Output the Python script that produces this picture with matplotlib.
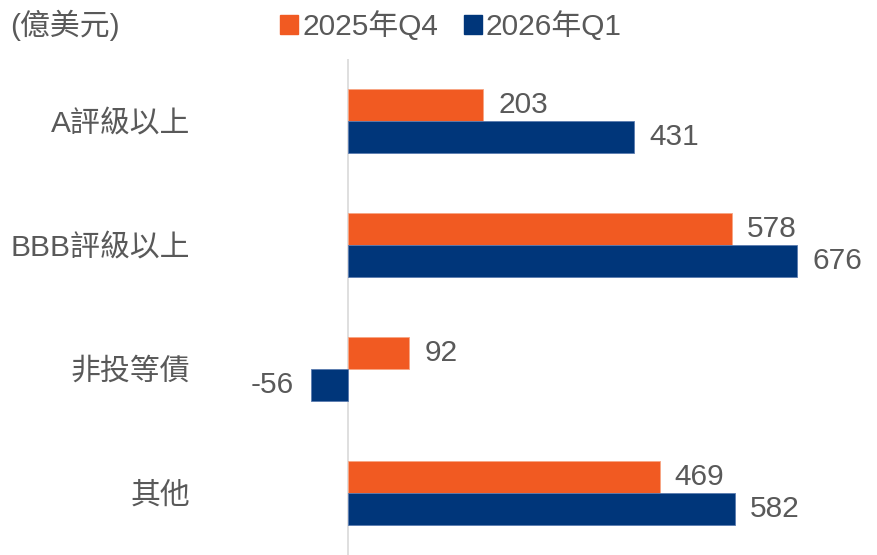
import matplotlib.pyplot as plt
from matplotlib.patches import Patch

plt.rcParams['font.family'] = ['Liberation Sans', 'Noto Sans CJK TC', 'DejaVu Sans']

categories = ['A評級以上', 'BBB評級以上', '非投等債', '其他']
q4_2025 = [203, 578, 92, 469]
q1_2026 = [431, 676, -56, 582]
series_names = ['2025年Q4', '2026年Q1']

ORANGE = '#F15A22'
NAVY = '#00367A'
GREY_TEXT = '#595959'
FS = 21.5

fig = plt.figure(figsize=[8.78, 5.55], dpi=100)
ax = fig.add_axes([200 / 878, 0, 670 / 878, 496 / 555])

h = 0.258
ypos = list(range(len(categories)))
b1 = ax.barh([y - h / 2 for y in ypos], q4_2025, height=h, color=ORANGE, edgecolor='#F7A584', linewidth=0.6)
b2 = ax.barh([y + h / 2 for y in ypos], q1_2026, height=h, color=NAVY, edgecolor='#5B7BB0', linewidth=0.6)

for bars, vals in ((b1, q4_2025), (b2, q1_2026)):
    for bar, v in zip(bars, vals):
        yc = bar.get_y() + bar.get_height() / 2
        if v >= 0:
            ax.annotate(str(v), (v, yc), xytext=(11, 0), textcoords='offset points',
                        ha='left', va='center', fontsize=FS, color=GREY_TEXT)
        else:
            ax.annotate(str(v), (v, yc), xytext=(-12, 0), textcoords='offset points',
                        ha='right', va='center', fontsize=FS, color=GREY_TEXT)

ax.set_xlim(-223, 786)
ax.set_ylim(3.5, -0.5)
ax.set_yticks(ypos)
ax.set_yticklabels(categories, fontsize=FS, color=GREY_TEXT)
ax.tick_params(axis='y', length=0, pad=7)
ax.set_xticks([])
for s in ['top', 'right', 'bottom', 'left']:
    ax.spines[s].set_visible(False)
ax.axvline(0, color='#D9D9D9', linewidth=1.2, zorder=0)

fig.text(10 / 878, 1 - 25 / 555, '(億美元)', fontsize=FS, color=GREY_TEXT, va='center', ha='left')

handles = [Patch(color=ORANGE), Patch(color=NAVY)]
fig.legend(handles, series_names, loc='center left', bbox_to_anchor=(268 / 878, 1 - 26 / 555),
           ncol=2, frameon=False, fontsize=FS, handlelength=0.6, handleheight=0.6,
           handletextpad=0.15, columnspacing=0.85, borderaxespad=0, labelcolor=GREY_TEXT)

fig.savefig('out.png', dpi=100)
